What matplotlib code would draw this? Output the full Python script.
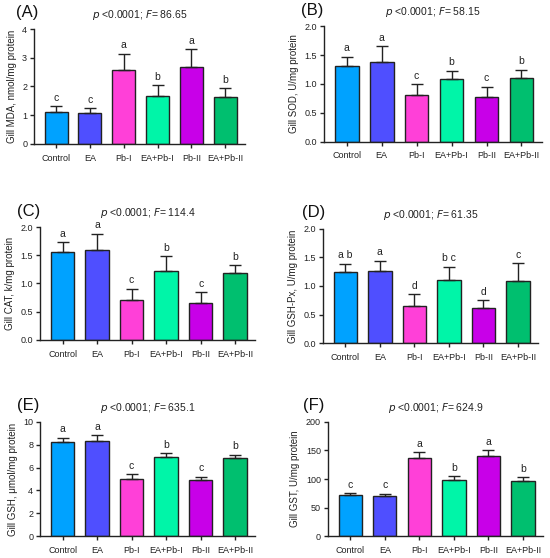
import matplotlib
matplotlib.use("Agg")
import matplotlib.pyplot as plt
import numpy as np

plt.rcParams['font.family'] = ['Liberation Sans', 'DejaVu Sans']

groups = ["Control", "EA", "Pb-I", "EA+Pb-I", "Pb-II", "EA+Pb-II"]
colors = ["#00A2FF", "#4F4FFF", "#FF40D8", "#00F5A8", "#C800E8", "#00BF6F"]

mda_mean = [1.10, 1.07, 2.59, 1.66, 2.67, 1.62]
mda_sd = [0.22, 0.17, 0.55, 0.39, 0.63, 0.32]
mda_letters = ["c", "c", "a", "b", "a", "b"]

sod_mean = [1.31, 1.38, 0.81, 1.08, 0.77, 1.11]
sod_sd = [0.16, 0.27, 0.19, 0.15, 0.18, 0.14]
sod_letters = ["a", "a", "c", "b", "c", "b"]

cat_mean = [1.55, 1.60, 0.70, 1.23, 0.66, 1.18]
cat_sd = [0.18, 0.28, 0.21, 0.25, 0.18, 0.14]
cat_letters = ["a", "a", "c", "b", "c", "b"]

gpx_mean = [1.25, 1.27, 0.65, 1.10, 0.61, 1.09]
gpx_sd = [0.14, 0.17, 0.21, 0.24, 0.14, 0.31]
gpx_letters = ["a b", "a", "d", "b c", "d", "c"]

gsh_mean = [8.22, 8.36, 5.03, 6.93, 4.94, 6.84]
gsh_sd = [0.38, 0.47, 0.38, 0.35, 0.26, 0.29]
gsh_letters = ["a", "a", "c", "b", "c", "b"]

gst_mean = [72.0, 70.8, 136.0, 98.0, 141.0, 96.5]
gst_sd = [3.4, 3.5, 11.0, 7.0, 9.0, 7.0]
gst_letters = ["c", "c", "a", "b", "a", "b"]

panels = [
    ("(A)", "86.65", "Gill MDA, nmol/mg protein", mda_mean, mda_sd, mda_letters, 4, [0, 1, 2, 3, 4], "{:.0f}",
     [0.062, 0.742, 0.383, 0.206], -0.085),
    ("(B)", "58.15", "Gill SOD, U/mg protein", sod_mean, sod_sd, sod_letters, 2.0, [0, 0.5, 1.0, 1.5, 2.0], "{:.1f}",
     [0.589, 0.746, 0.396, 0.207], -0.105),
    ("(C)", "114.4", "Gill CAT, k/mg protein", cat_mean, cat_sd, cat_letters, 2.0, [0, 0.5, 1.0, 1.5, 2.0], "{:.1f}",
     [0.073, 0.391, 0.391, 0.202], -0.107),
    ("(D)", "61.35", "Gill GSH-Px, U/mg protein", gpx_mean, gpx_sd, gpx_letters, 2.0, [0, 0.5, 1.0, 1.5, 2.0], "{:.1f}",
     [0.587, 0.385, 0.391, 0.205], -0.098),
    ("(E)", "635.1", "Gill GSH, μmol/mg protein", gsh_mean, gsh_sd, gsh_letters, 10, [0, 2, 4, 6, 8, 10], "{:.0f}",
     [0.073, 0.039, 0.391, 0.205], -0.107),
    ("(F)", "624.9", "Gill GST, U/mg protein", gst_mean, gst_sd, gst_letters, 200, [0, 50, 100, 150, 200], "{:.0f}",
     [0.596, 0.039, 0.391, 0.205], -0.115),
]

fig = plt.figure(figsize=(5.5, 5.58), dpi=100)

for lab, fval, ylab, mean, sd, letters, ymax, yticks, fmt, rect, labx in panels:
    ax = fig.add_axes(rect)
    x = np.arange(len(groups))
    ax.bar(x, mean, width=0.68, color=colors, edgecolor="#222222", linewidth=1.0, zorder=2)
    ax.errorbar(x, mean, yerr=[np.zeros(len(sd)), sd], fmt="none", ecolor="#222222",
                elinewidth=1.0, capsize=4.3, capthick=1.0, zorder=3)
    for xi, m, s, l in zip(x, mean, sd, letters):
        ax.text(xi, m + s + ymax * 0.03, l, ha="center", va="bottom", fontsize=7.5, color="#222222")
    ax.set_xlim(-0.65, 5.58)
    ax.set_ylim(0, ymax)
    ax.set_yticks(yticks)
    ax.set_yticklabels([fmt.format(v) for v in yticks], fontsize=6.5)
    ax.set_xticks(x)
    ax.set_xticklabels(groups, fontsize=6.5)
    ax.spines["top"].set_visible(False)
    ax.spines["right"].set_visible(False)
    for sp in ("left", "bottom"):
        ax.spines[sp].set_linewidth(1.0)
        ax.spines[sp].set_color("#222222")
    ax.tick_params(axis="both", length=3, width=1.0, colors="#222222", pad=2)
    ax.tick_params(axis="x", pad=4)
    ax.set_ylabel(ylab, fontsize=7, color="#222222", labelpad=4)
    ax.set_title(r"$\it{p}$ <0.0001; $\it{F}$= " + fval, fontsize=7.5, pad=8, color="#222222")
    ax.text(labx, 1.14, lab, transform=ax.transAxes, fontsize=12, ha="left", va="center", color="#111111")

fig.savefig("out.png", dpi=100)
